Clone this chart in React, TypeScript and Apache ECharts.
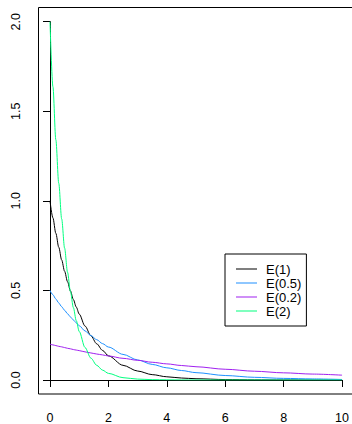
import React, { useEffect, useRef } from "react";
import * as echarts from "echarts";

const xs = [0, 0.1, 0.2, 0.3, 0.4, 0.5, 0.6, 0.7, 0.8, 0.9, 1, 1.2, 1.4, 1.6, 1.8, 2, 2.5, 3, 3.5, 4, 4.5, 5, 6, 7, 8, 9, 10];
const e1 = [1, 0.905, 0.819, 0.741, 0.67, 0.607, 0.549, 0.497, 0.449, 0.407, 0.368, 0.301, 0.247, 0.202, 0.165, 0.135, 0.082, 0.05, 0.03, 0.018, 0.011, 0.007, 0.0025, 0.0009, 0.0003, 0.0001, 0.00005];
const e05 = [0.5, 0.476, 0.452, 0.43, 0.409, 0.389, 0.37, 0.352, 0.335, 0.319, 0.303, 0.274, 0.248, 0.225, 0.203, 0.184, 0.143, 0.112, 0.087, 0.068, 0.053, 0.041, 0.025, 0.015, 0.009, 0.006, 0.003];
const e02 = [0.2, 0.196, 0.192, 0.188, 0.185, 0.181, 0.177, 0.174, 0.17, 0.167, 0.164, 0.157, 0.151, 0.145, 0.14, 0.134, 0.121, 0.11, 0.099, 0.09, 0.081, 0.074, 0.06, 0.049, 0.04, 0.033, 0.027];
const e2 = [2, 1.637, 1.341, 1.098, 0.899, 0.736, 0.602, 0.493, 0.404, 0.331, 0.271, 0.181, 0.122, 0.082, 0.055, 0.037, 0.013, 0.005, 0.002, 0.001, 0.0003, 0.0001, 0, 0, 0, 0, 0];

const names = ["E(1)", "E(0.5)", "E(0.2)", "E(2)"];
const colors = ["#000000", "#1E90FF", "#A020F0", "#00FF7F"];
const values = [e1, e05, e02, e2];

const FONT = "Liberation Sans, Arial, Helvetica, sans-serif";
// thin horizontal line icon, 21x14 bounding box
const LINE_ICON =
  "path://M0,0L0.01,0L0,0.01Z M0,6.5L21,6.5L21,7.5L0,7.5Z M21,14L20.99,14L21,13.99Z";

export default function App() {
  const ref = useRef<HTMLDivElement>(null);
  useEffect(() => {
    if (!ref.current) return;
    const chart = echarts.init(ref.current, null, { renderer: "svg" });
    chart.setOption({
      animation: false,
      backgroundColor: "#ffffff",
      grid: { left: 50, right: 9, top: 21.7, bottom: 44 },
      xAxis: {
        type: "value",
        min: 0,
        max: 10,
        interval: 2,
        offset: 14,
        axisLine: { show: true, lineStyle: { color: "#000", width: 1 } },
        axisTick: { show: true, length: 7, lineStyle: { color: "#000" } },
        axisLabel: { color: "#000", fontSize: 12.5, fontFamily: FONT, margin: 17 },
        splitLine: { show: false },
      },
      yAxis: {
        type: "value",
        min: 0,
        max: 2,
        interval: 0.5,
        offset: 12,
        axisLine: { show: true, lineStyle: { color: "#000", width: 1 } },
        axisTick: { show: true, length: 7, lineStyle: { color: "#000" } },
        axisLabel: {
          color: "#000",
          fontSize: 12.5,
          fontFamily: FONT,
          rotate: 90,
          margin: 16,
          formatter: (v: number) => v.toFixed(1),
        },
        splitLine: { show: false },
      },
      legend: {
        orient: "vertical",
        left: 225,
        top: 254,
        data: names.map((n) => ({ name: n, icon: LINE_ICON })),
        borderColor: "#000",
        borderWidth: 1,
        padding: [8, 5, 8, 11],
        itemGap: 0,
        itemWidth: 21,
        itemHeight: 14,
        textStyle: { color: "#000", fontSize: 13, fontFamily: FONT, padding: [0, 0, 0, 4] },
      },
      graphic: [
        {
          type: "rect",
          shape: { x: 38.5, y: 7.5, width: 317, height: 386.5 },
          style: { fill: "none", stroke: "#000", lineWidth: 1 },
          silent: true,
        },
      ],
      series: names.map((n, i) => ({
        name: n,
        type: "line",
        data: xs.map((x, j) => [x, values[i][j]]),
        symbol: "none",
        showSymbol: false,
        smooth: 0.3,
        smoothMonotone: "x",
        lineStyle: { color: colors[i], width: 1 },
        itemStyle: { color: colors[i] },
      })),
    });
    return () => chart.dispose();
  }, []);
  return (
    <div
      ref={ref}
      style={{ position: "fixed", left: 0, top: 0, width: 352, height: 424 }}
    />
  );
}
